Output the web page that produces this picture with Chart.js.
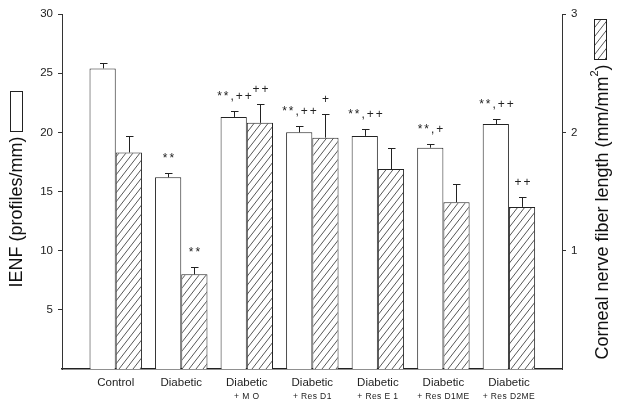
<!DOCTYPE html>
<html>
<head>
<meta charset="utf-8">
<script src="https://cdn.jsdelivr.net/npm/chart.js@4/dist/chart.umd.min.js"></script>
<style>
  body { margin: 0; background: #fff; }
</style>
</head>
<body>
<canvas id="chart" width="622" height="410"></canvas>
<script>
// groups along the x axis
const groups = ['Control', 'Diabetic', 'Diabetic', 'Diabetic', 'Diabetic', 'Diabetic', 'Diabetic'];
const subLabels = ['', '', '+ M O', '+ Res D1', '+ Res E 1', '+ Res D1ME', '+ Res D2ME'];

// IENF (profiles/mm), left axis
const ienf = [25.4, 16.2, 21.3, 20.0, 19.7, 18.7, 20.7];
const ienfErr = [0.5, 0.35, 0.48, 0.53, 0.6, 0.34, 0.45];
const ienfMarks = ['', '**', '**,++', '**,++', '**,++', '**,+', '**,++'];

// corneal nerve fiber length (mm/mm2), right axis
const cnfl = [1.83, 0.80, 2.08, 1.955, 1.69, 1.41, 1.37];
const cnflErr = [0.14, 0.06, 0.16, 0.2, 0.18, 0.155, 0.08];
const cnflMarks = ['', '**', '++', '+', '', '', '++'];

const leftTicks = [5, 10, 15, 20, 25, 30];
const rightTicks = [1, 2, 3];

const FONT = "'Liberation Sans', Arial, sans-serif";

// diagonal hatch pattern
function makeHatch() {
  const c = document.createElement('canvas');
  c.width = 7;
  c.height = 9;
  const g = c.getContext('2d');
  g.fillStyle = '#fff';
  g.fillRect(0, 0, 7, 9);
  g.strokeStyle = '#444';
  g.lineWidth = 0.9;
  for (let k = -1; k <= 1; k++) {
    g.beginPath();
    g.moveTo(-7 + k * 7, 18);
    g.lineTo(14 + k * 7, -9);
    g.stroke();
  }
  return g.createPattern(c, 'repeat');
}

const ctx = document.getElementById('chart').getContext('2d');
const hatch = makeHatch();

const extras = {
  id: 'extras',
  afterDatasetsDraw(chart) {
    const c = chart.ctx;
    const sets = [[ienf, ienfErr, ienfMarks, 'y'], [cnfl, cnflErr, cnflMarks, 'y1']];
    c.save();
    sets.forEach(([vals, errs, marks, axis], d) => {
      const meta = chart.getDatasetMeta(d);
      const scale = chart.scales[axis];
      meta.data.forEach((bar, i) => {
        const x = Math.round(bar.x) + 0.5;
        const top = Math.round(scale.getPixelForValue(vals[i] + errs[i])) + 0.5;
        c.strokeStyle = '#222';
        c.lineWidth = 1;
        c.beginPath();
        c.moveTo(x, bar.y);
        c.lineTo(x, top);
        c.moveTo(x - 3.5, top);
        c.lineTo(x + 4, top);
        c.stroke();
        if (marks[i]) {
          c.fillStyle = '#222';
          c.font = '12px ' + FONT;
          c.letterSpacing = '2px';
          c.textAlign = 'center';
          c.textBaseline = 'middle';
          c.fillText(marks[i], x + 1, top - 15);
        }
      });
    });
    c.restore();
  },
  afterDraw(chart) {
    const c = chart.ctx;
    const xs = chart.scales.x;
    c.save();
    // second line of the category labels
    c.fillStyle = '#222';
    c.font = '8.5px ' + FONT;
    c.letterSpacing = '0.4px';
    c.textAlign = 'center';
    c.textBaseline = 'middle';
    subLabels.forEach((s, i) => {
      if (s) c.fillText(s, xs.getPixelForValue(i), 397);
    });
    c.letterSpacing = '0px';

    // legend keys
    c.lineWidth = 1;
    c.strokeStyle = '#222';
    c.fillStyle = '#fff';
    c.fillRect(10.5, 91.5, 12, 40);
    c.strokeRect(10.5, 91.5, 12, 40);
    c.fillStyle = hatch;
    c.fillRect(594.5, 19.5, 12, 40);
    c.strokeRect(594.5, 19.5, 12, 40);

    // axis titles, reading bottom to top
    c.fillStyle = '#111';
    c.textBaseline = 'middle';
    c.textAlign = 'center';
    c.save();
    c.translate(17, 212);
    c.rotate(-Math.PI / 2);
    c.font = '18px ' + FONT;
    c.fillText('IENF (profiles/mm)', 0, 0);
    c.restore();

    c.save();
    c.translate(603, 212);
    c.rotate(-Math.PI / 2);
    c.textAlign = 'left';
    const main = 'Corneal nerve fiber length (mm/mm';
    c.font = '18px ' + FONT;
    const w1 = c.measureText(main).width;
    const w3 = c.measureText(')').width;
    c.font = '11px ' + FONT;
    const w2 = c.measureText('2').width;
    let px = -(w1 + w2 + w3) / 2;
    c.font = '18px ' + FONT;
    c.fillText(main, px, 0);
    px += w1;
    c.font = '11px ' + FONT;
    c.fillText('2', px, -8);
    px += w2;
    c.font = '18px ' + FONT;
    c.fillText(')', px, 0);
    c.restore();
    c.restore();
  }
};

const chartGraph = new Chart(ctx, {
  type: 'bar',
  data: {
    datasets: [
      {
        label: 'IENF',
        data: ienf.map((v, i) => ({ x: i, y: v })),
        yAxisID: 'y',
        backgroundColor: '#fff',
        borderColor: '#222',
        borderWidth: 1
      },
      {
        label: 'CNFL',
        data: cnfl.map((v, i) => ({ x: i, y: v })),
        yAxisID: 'y1',
        backgroundColor: hatch,
        borderColor: '#222',
        borderWidth: 1
      }
    ]
  },
  options: {
    responsive: false,
    animation: false,
    events: [],
    categoryPercentage: 0.8,
    barPercentage: 1,
    layout: { padding: { top: 14, left: 0, right: 0, bottom: 0 } },
    plugins: { legend: { display: false }, tooltip: { enabled: false } },
    scales: {
      x: {
        type: 'linear',
        offset: false,
        min: -0.82,
        max: 6.81,
        afterBuildTicks: (axis) => { axis.ticks = groups.map((g, i) => ({ value: i })); },
        afterFit: (axis) => { axis.height = 41; },
        grid: { display: false, drawTicks: false, offset: false },
        border: { display: true, color: '#222', width: 1.5 },
        ticks: {
          autoSkip: false,
          maxRotation: 0,
          padding: 7,
          color: '#222',
          font: { family: FONT, size: 11.5 },
          callback: (value, index) => groups[index]
        }
      },
      y: {
        position: 'left',
        min: 0,
        max: 30,
        afterBuildTicks: (axis) => { axis.ticks = leftTicks.map(v => ({ value: v })); },
        afterFit: (axis) => { axis.width = 62; },
        grid: { display: true, drawOnChartArea: false, drawTicks: true, tickLength: 4, color: '#333' },
        border: { display: true, color: '#333', width: 1 },
        ticks: { padding: 5, color: '#222', font: { family: FONT, size: 11.5 } }
      },
      y1: {
        position: 'right',
        min: 0,
        max: 3,
        afterBuildTicks: (axis) => { axis.ticks = rightTicks.map(v => ({ value: v })); },
        afterFit: (axis) => { axis.width = 60; },
        grid: { display: true, drawOnChartArea: false, drawTicks: true, tickLength: 4, color: '#333' },
        border: { display: true, color: '#333', width: 1 },
        ticks: { padding: 5, color: '#222', font: { family: FONT, size: 11.5 } }
      }
    }
  },
  plugins: [extras]
});
</script>
</body>
</html>
